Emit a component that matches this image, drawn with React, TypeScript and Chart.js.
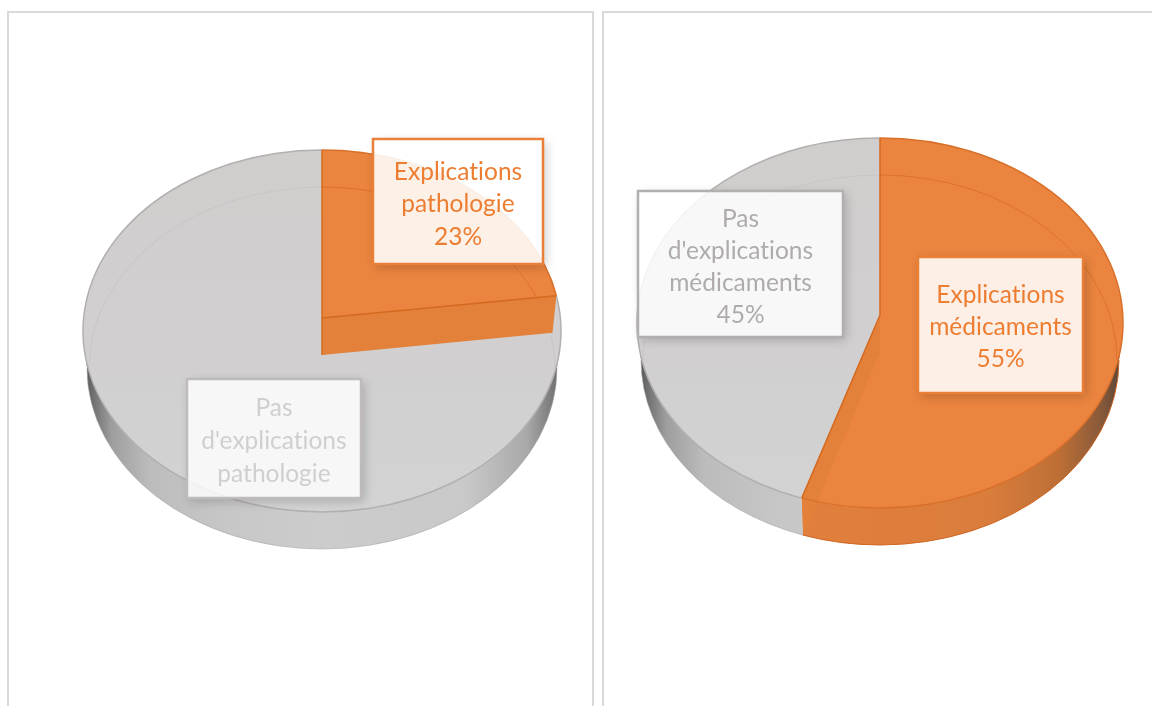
import React, { useEffect, useRef } from "react";
import { Chart, registerables } from "chart.js";

Chart.register(...registerables);

const pathologyCategories = ["Explications pathologie", "Pas d'explications pathologie"];
const pathologyValues = [23, 77];
const pathologyShowPercent = [true, false];

const medicationCategories = ["Explications médicaments", "Pas d'explications médicaments"];
const medicationValues = [55, 45];
const medicationShowPercent = [true, true];

const ORANGE = "#ea843f";
const GREY = "#d0cece";

type Box = { x: number; y: number; w: number; h: number; text: string; border: string; fill: string; lines: number[] };
type Look = {
  left: number; width: number; cx: number; cy: number; rx: number; ry: number; apexY: number; depth: number;
  boxes: Box[]; showPercent: boolean[];
};

const leftLook: Look = {
  left: 9, width: 583, cx: 322, cy: 331, rx: 239, ry: 181, apexY: 318, depth: 37,
  showPercent: pathologyShowPercent,
  boxes: [
    { x: 373, y: 139, w: 170, h: 125, text: "#ed7d31", border: "#ea7f37", fill: "rgba(255,255,255,0.88)", lines: [172, 204, 237] },
    { x: 187, y: 379, w: 174, h: 119, text: "#d0cece", border: "#bfbbbb", fill: "rgba(255,255,255,0.82)", lines: [408, 441, 474] },
  ],
};

const rightLook: Look = {
  left: 604, width: 548, cx: 880, cy: 323, rx: 243, ry: 185, apexY: 315, depth: 37,
  showPercent: medicationShowPercent,
  boxes: [
    { x: 918, y: 257, w: 165, h: 136, text: "#ed7d31", border: "#ea7f37", fill: "rgba(255,255,255,0.87)", lines: [295, 327, 359] },
    { x: 638, y: 191, w: 205, h: 146, text: "#afabab", border: "#b3afaf", fill: "rgba(255,255,255,0.85)", lines: [219, 251, 283, 315] },
  ],
};

const SIDE_STOPS: Record<string, [number, string][]> = {
  [ORANGE]: [[0, "#e5813c"], [0.45, "#e07e3c"], [0.72, "#da7d3c"], [0.87, "#bd6f36"], [0.96, "#85583a"], [1, "#4f4236"]],
  [GREY]: [[0, "#4a4a4a"], [0.02, "#6e6e6e"], [0.06, "#9e9e9e"], [0.14, "#bcbcbc"], [0.3, "#c8c7c7"], [0.5, "#cdcccc"], [0.8, "#c9c9c9"], [0.93, "#a8a8a8"], [0.985, "#777777"], [1, "#5a5a5a"]],
};

function project(angle: number, look: Look) {
  const a = (look.apexY - look.cy) / look.ry;
  const u = Math.cos(angle);
  const v = Math.sin(angle);
  const k = 1 + a * v;
  const x = (u * Math.sqrt(1 - a * a)) / k;
  const y = (v + a) / k;
  return { phi: Math.atan2(y, x), x: look.cx + x * look.rx, y: look.cy + y * look.ry };
}

function unwrap(phi: number, from: number) {
  let p = phi;
  while (p < from) p += Math.PI * 2;
  while (p > from + Math.PI * 2) p -= Math.PI * 2;
  return p;
}

function pieFacePlugin(look: Look) {
  return {
    id: "pieFace",
    beforeDatasetDraw(chart: any) {
      const ctx: CanvasRenderingContext2D = chart.ctx;
      const { cx, cy, rx, ry, apexY, depth } = look;
      const lowRx = rx - 4;
      const arcs = chart.getDatasetMeta(0).data.map((arc: any, i: number) => {
        const s = project(arc.startAngle, look);
        const e = project(arc.endAngle, look);
        const isFirst = i === 0;
        const p0 = isFirst ? -Math.PI / 2 : unwrap(s.phi, -Math.PI);
        const p1 = unwrap(e.phi, p0 + 0.001);
        return { color: arc.options.backgroundColor as string, start: s, end: e, p0, p1 };
      });

      ctx.save();
      ctx.translate(-look.left, -13);

      // Outer side band, front half of the disc only
      arcs.forEach((arc: any) => {
        const from = Math.max(arc.p0, 0);
        const to = Math.min(arc.p1, Math.PI);
        if (to <= from) return;
        const g = ctx.createLinearGradient(cx - rx, 0, cx + rx, 0);
        SIDE_STOPS[arc.color].forEach(([o, c]) => g.addColorStop(o, c));
        ctx.beginPath();
        ctx.ellipse(cx, cy, rx, ry, 0, from, to);
        ctx.ellipse(cx, cy + depth, lowRx, ry, 0, to, from, true);
        ctx.closePath();
        ctx.fillStyle = g;
        ctx.fill();
        ctx.strokeStyle = arc.color === ORANGE ? "rgba(205,95,25,0.9)" : "rgba(170,165,165,0.6)";
        ctx.lineWidth = 1;
        ctx.beginPath();
        ctx.ellipse(cx, cy + depth, lowRx, ry, 0, from, to);
        ctx.stroke();
      });

      // Top faces
      arcs.forEach((arc: any) => {
        ctx.beginPath();
        ctx.moveTo(cx, apexY);
        ctx.ellipse(cx, cy, rx, ry, 0, arc.p0, arc.p1);
        ctx.closePath();
        if (arc.color === GREY) {
          const g = ctx.createLinearGradient(0, cy - ry, 0, cy + ry);
          g.addColorStop(0, "#d0cdcd");
          g.addColorStop(0.55, "#d1cfcf");
          g.addColorStop(1, "#d3d3d3");
          ctx.fillStyle = g;
        } else {
          ctx.fillStyle = arc.color;
        }
        ctx.fill();
      });

      // Back edge of the lower rim, seen through the disc
      arcs.forEach((arc: any) => {
        const from = Math.max(arc.p0, -Math.PI);
        const to = Math.min(arc.p1, 0);
        ctx.lineWidth = 1;
        ctx.strokeStyle = arc.color === ORANGE ? "rgba(205,95,25,0.5)" : "rgba(150,150,150,0.15)";
        if (to > from) {
          ctx.beginPath();
          ctx.ellipse(cx, cy + depth, rx - 6, ry, 0, from, to);
          ctx.stroke();
        }
        if (arc.p1 > Math.PI) {
          ctx.beginPath();
          ctx.ellipse(cx, cy + depth, rx - 6, ry, 0, Math.PI, Math.min(arc.p1, Math.PI * 1.5));
          ctx.stroke();
        }
      });

      // Cut wall of the orange slice
      const cut = arcs[0];
      const lowX = cx + ((cut.end.x - cx) * lowRx) / rx;
      ctx.beginPath();
      ctx.moveTo(cx, apexY);
      ctx.lineTo(cut.end.x, cut.end.y);
      ctx.lineTo(lowX, cut.end.y + depth);
      ctx.lineTo(cx, apexY + depth);
      ctx.closePath();
      ctx.fillStyle = "#e38039";
      ctx.fill();

      // Outlines
      arcs.forEach((arc: any) => {
        ctx.lineWidth = 1.5;
        ctx.strokeStyle = arc.color === ORANGE ? "#d9702a" : "#b4afaf";
        ctx.beginPath();
        ctx.ellipse(cx, cy, rx, ry, 0, arc.p0, arc.p1);
        ctx.stroke();
      });
      const wallFacesFront = cut.end.x > cx;
      ctx.strokeStyle = "#d4691f";
      ctx.lineWidth = 1.5;
      ctx.beginPath();
      ctx.moveTo(cx, cy - ry);
      ctx.lineTo(cx, wallFacesFront ? apexY + depth : apexY);
      ctx.moveTo(cx, apexY);
      ctx.lineTo(cut.end.x, cut.end.y);
      ctx.stroke();
      ctx.restore();
      return false;
    },
    afterDraw(chart: any) {
      const ctx: CanvasRenderingContext2D = chart.ctx;
      const labels: string[] = chart.data.labels;
      const values: number[] = chart.data.datasets[0].data;
      const total = values.reduce((a, b) => a + b, 0);
      ctx.save();
      ctx.translate(-look.left, -13);
      look.boxes.forEach((b, i) => {
        ctx.save();
        ctx.beginPath();
        ctx.rect(0, 0, 1200, 800);
        ctx.rect(b.x, b.y, b.w, b.h);
        ctx.clip("evenodd");
        ctx.shadowColor = "rgba(0,0,0,0.2)";
        ctx.shadowBlur = 10;
        ctx.shadowOffsetX = 3;
        ctx.shadowOffsetY = 3;
        ctx.fillStyle = "#fff";
        ctx.fillRect(b.x, b.y, b.w, b.h);
        ctx.restore();
        ctx.fillStyle = b.fill;
        ctx.fillRect(b.x, b.y, b.w, b.h);
        ctx.strokeStyle = b.border;
        ctx.lineWidth = 2.5;
        ctx.strokeRect(b.x, b.y, b.w, b.h);
        const parts = labels[i].split(" ");
        if (look.showPercent[i]) parts.push(`${Math.round((values[i] / total) * 100)}%`);
        ctx.fillStyle = b.text;
        ctx.font = '24.5px Lato, "Open Sans", sans-serif';
        (ctx as any).letterSpacing = "0.01px";
        ctx.textAlign = "center";
        ctx.textBaseline = "middle";
        parts.forEach((t, j) => ctx.fillText(t, b.x + b.w / 2, b.lines[j]));
      });
      ctx.restore();
    },
  };
}

function Pie({ categories, values, look }: { categories: string[]; values: number[]; look: Look }) {
  const ref = useRef<HTMLCanvasElement>(null);
  useEffect(() => {
    const chart = new Chart(ref.current as HTMLCanvasElement, {
      type: "pie",
      data: {
        labels: categories,
        datasets: [{ data: values, backgroundColor: [ORANGE, GREY], borderWidth: 0 }],
      },
      options: {
        animation: false,
        responsive: false,
        devicePixelRatio: 1,
        plugins: { legend: { display: false }, tooltip: { enabled: false } },
      },
      plugins: [pieFacePlugin(look)],
    } as any);
    return () => chart.destroy();
  }, []);
  return (
    <canvas
      ref={ref}
      width={look.width}
      height={693}
      style={{ position: "absolute", left: look.left, top: 13 }}
    />
  );
}

export default function App() {
  const panel = (left: number, width: number): React.CSSProperties => ({
    position: "absolute", left, top: 11, width, height: 760, border: "2px solid #d9d9d9", boxSizing: "border-box",
  });
  return (
    <div style={{ position: "fixed", left: 0, top: 0, width: 1152, height: 706, overflow: "hidden", background: "#fff" }}>
      <div style={panel(7, 587)} />
      <div style={panel(602, 640)} />
      <Pie categories={pathologyCategories} values={pathologyValues} look={leftLook} />
      <Pie categories={medicationCategories} values={medicationValues} look={rightLook} />
    </div>
  );
}
